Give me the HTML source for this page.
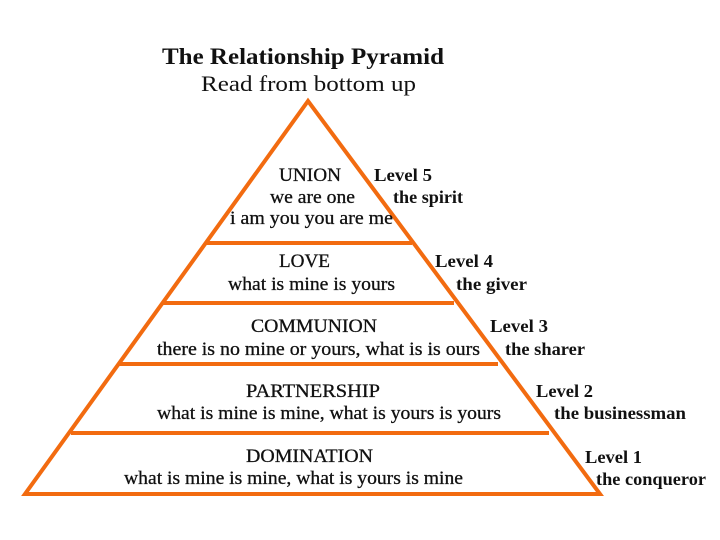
<!DOCTYPE html>
<html><head><style>body{margin:0;background:#fff}svg{display:block}</style></head><body>
<svg width="720" height="540" xmlns="http://www.w3.org/2000/svg" font-family="Liberation Serif, serif" fill="#111">
<rect width="720" height="540" fill="#fff"/>
<g stroke="#f26b10" stroke-width="4" fill="none" stroke-linejoin="miter">
<polygon points="308,101 25,494 600,494"/>
<line x1="205" y1="243" x2="412" y2="243"/>
<line x1="163" y1="303" x2="454" y2="303"/>
<line x1="118" y1="364" x2="498" y2="364"/>
<line x1="71" y1="433" x2="549" y2="433"/>
</g>
<text x="162" y="64" font-size="23" font-weight="bold" textLength="282" lengthAdjust="spacingAndGlyphs">The Relationship Pyramid</text>
<text x="201" y="91" font-size="22" textLength="215" lengthAdjust="spacingAndGlyphs">Read from bottom up</text>
<g font-size="18.5" stroke="#111" stroke-width="0.3">
<text x="279" y="181" textLength="62" lengthAdjust="spacingAndGlyphs">UNION</text>
<text x="270" y="203" textLength="85" lengthAdjust="spacingAndGlyphs">we are one</text>
<text x="230" y="224" textLength="163" lengthAdjust="spacingAndGlyphs">i am you you are me</text>
<text x="279" y="267" textLength="51" lengthAdjust="spacingAndGlyphs">LOVE</text>
<text x="228" y="290" textLength="167" lengthAdjust="spacingAndGlyphs">what is mine is yours</text>
<text x="251" y="332" textLength="126" lengthAdjust="spacingAndGlyphs">COMMUNION</text>
<text x="157" y="355" textLength="323" lengthAdjust="spacingAndGlyphs">there is no mine or yours, what is is ours</text>
<text x="246" y="397" textLength="134" lengthAdjust="spacingAndGlyphs">PARTNERSHIP</text>
<text x="157" y="419" textLength="344" lengthAdjust="spacingAndGlyphs">what is mine is mine, what is yours is yours</text>
<text x="246" y="462" textLength="127" lengthAdjust="spacingAndGlyphs">DOMINATION</text>
<text x="124" y="484" textLength="339" lengthAdjust="spacingAndGlyphs">what is mine is mine, what is yours is mine</text>
</g>
<g font-size="18" font-weight="bold">
<text x="374" y="181" textLength="58" lengthAdjust="spacingAndGlyphs">Level 5</text>
<text x="393" y="203" textLength="70" lengthAdjust="spacingAndGlyphs">the spirit</text>
<text x="435" y="267" textLength="58" lengthAdjust="spacingAndGlyphs">Level 4</text>
<text x="456" y="290" textLength="71" lengthAdjust="spacingAndGlyphs">the giver</text>
<text x="490" y="332" textLength="58" lengthAdjust="spacingAndGlyphs">Level 3</text>
<text x="505" y="355" textLength="80" lengthAdjust="spacingAndGlyphs">the sharer</text>
<text x="536" y="397" textLength="57" lengthAdjust="spacingAndGlyphs">Level 2</text>
<text x="554" y="419" textLength="132" lengthAdjust="spacingAndGlyphs">the businessman</text>
<text x="585" y="463" textLength="57" lengthAdjust="spacingAndGlyphs">Level 1</text>
<text x="596" y="485" textLength="110" lengthAdjust="spacingAndGlyphs">the conqueror</text>
</g>
</svg>
</body></html>
